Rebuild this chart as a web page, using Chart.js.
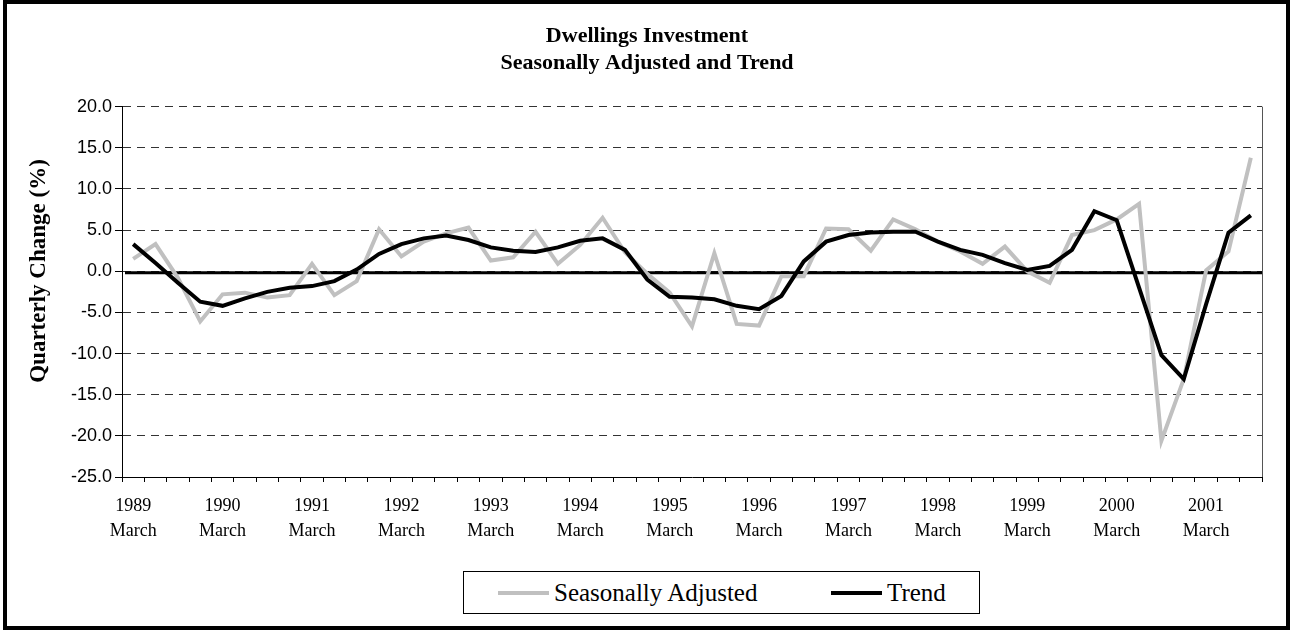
<!DOCTYPE html>
<html>
<head>
<meta charset="utf-8">
<script src="https://cdn.jsdelivr.net/npm/chart.js@4.4.0/dist/chart.umd.min.js"></script>
<style>
  body { margin: 0; background: #fff; }
  #frame { position: absolute; left: 3px; top: 0px; width: 1279px; height: 622px; border: 4px solid #000; }
  #wrap { position: absolute; left: 0; top: 0; width: 1294px; height: 631px; }
  #legend { position: absolute; left: 463px; top: 571px; width: 515px; height: 41px; border: 1px solid #000; background: #fff;
            font-family: "Liberation Serif"; font-size: 25px; color: #000; }
  #legend .item { position: absolute; top: 0; height: 41px; display: flex; align-items: center; white-space: nowrap; }
  #legend .swatch { width: 51px; height: 4px; margin-right: 5px; }
</style>
</head>
<body>
<div id="frame"></div>
<div id="wrap"><canvas id="chart" width="1294" height="631"></canvas></div>
<div id="legend"></div>
<script>
// quarterly % change, March 1989 to September 2001
var years = ['1989', '1990', '1991', '1992', '1993', '1994', '1995', '1996', '1997', '1998', '1999', '2000', '2001'];
var months = ['March', 'June', 'September', 'December'];

var seasonallyAdjusted = [
  1.5, 3.3, -0.8, -6.1,  -2.8, -2.6, -3.2, -2.9,  0.9, -2.9, -1.2, 5.1,
  1.8, 3.6, 4.6, 5.3,    1.3, 1.7, 4.8, 0.9,     3.2, 6.5, 2.3, -0.3,
  -2.6, -6.7, 2.2, -6.4, -6.6, -0.6, -0.6, 5.2,  5.1, 2.5, 6.3, 5.1,
  3.6, 2.4, 0.9, 3.0,    0.0, -1.4, 4.4, 5.0,    6.3, 8.2, -20.6, -13.1,
  0.1, 2.4, 13.8
];
var trend = [
  3.3, 1.0, -1.4, -3.7,  -4.2, -3.3, -2.5, -2.0,  -1.8, -1.2, 0.2, 2.1,
  3.3, 4.0, 4.35, 3.8,   2.9, 2.5, 2.35, 2.9,    3.7, 4.0, 2.6, -1.0,
  -3.1, -3.2, -3.4, -4.2, -4.6, -3.0, 1.2, 3.6,  4.4, 4.7, 4.8, 4.8,
  3.6, 2.6, 2.0, 1.0,    0.15, 0.65, 2.6, 7.3,   6.2, -2.0, -10.2, -13.1,
  -4.0, 4.7, 6.8
];

var quarters = [];
years.forEach(y => months.forEach(m => quarters.push([y, m])));
quarters = quarters.slice(0, seasonallyAdjusted.length);

var serif = 'Liberation Serif';
var sans = 'Liberation Sans';

// thick zero line, right border of the plot, rotated y title
var extras = {
  id: 'extras',
  beforeDatasetsDraw(chart) {
    const {ctx, chartArea} = chart;
    const y0 = chart.scales.y.getPixelForValue(0) + 1.5;
    ctx.save();
    ctx.strokeStyle = '#000';
    ctx.lineWidth = 3;
    ctx.beginPath();
    ctx.moveTo(chartArea.left + 3, y0);
    ctx.lineTo(chartArea.right + 1, y0);
    ctx.stroke();
    ctx.lineWidth = 1;
    ctx.strokeStyle = '#555';
    ctx.beginPath();
    ctx.moveTo(chartArea.right + 0.5, chartArea.top);
    ctx.lineTo(chartArea.right + 0.5, chartArea.bottom);
    ctx.stroke();
    ctx.restore();
  },
  afterDraw(chart) {
    const ctx = chart.ctx;
    ctx.save();
    ctx.translate(39, 271);
    ctx.rotate(-Math.PI / 2);
    ctx.font = 'bold 23px "' + serif + '"';
    ctx.fillStyle = '#000';
    ctx.textAlign = 'center';
    ctx.textBaseline = 'middle';
    ctx.fillText('Quarterly Change (%)', 0, 0);
    ctx.restore();
  }
};

var chart = new Chart(document.getElementById('chart'), {
  type: 'line',
  data: {
    labels: quarters.map(q => q[1] + ' ' + q[0]),
    datasets: [
      { label: 'Seasonally Adjusted', data: seasonallyAdjusted, borderColor: '#c0c0c0', backgroundColor: '#c0c0c0',
        borderWidth: 4, pointRadius: 0, tension: 0, order: 2 },
      { label: 'Trend', data: trend, borderColor: '#000', backgroundColor: '#000',
        borderWidth: 4, pointRadius: 0, tension: 0, order: 1 }
    ]
  },
  options: {
    responsive: false,
    animation: false,
    layout: { padding: { left: 32, right: 32, top: 23, bottom: 84 } },
    plugins: {
      legend: { display: false },
      tooltip: { enabled: false },
      title: {
        display: true,
        text: ['Dwellings Investment', 'Seasonally Adjusted and Trend'],
        color: '#000',
        font: { family: serif, size: 22, weight: 'bold', lineHeight: 1.22 },
        padding: { top: 0, bottom: 30 }
      }
    },
    scales: {
      x: {
        offset: true,
        grid: { offset: true, drawOnChartArea: false, tickLength: 5, color: '#000' },
        border: { color: '#000', width: 1 },
        ticks: {
          autoSkip: false, maxRotation: 0, padding: 12, color: '#000',
          font: { family: serif, size: 18, lineHeight: 1.39 },
          callback: (v, i) => quarters[i][1] === 'March' ? [quarters[i][0], quarters[i][1]] : ''
        },
        afterFit: s => { s.height = 70; }
      },
      y: {
        min: -25, max: 20,
        ticks: { stepSize: 5, padding: 3, color: '#000', font: { family: sans, size: 18 }, callback: v => v.toFixed(1) },
        grid: { color: '#333', tickColor: '#000', tickLength: 7, tickBorderDash: [] },
        border: { color: '#000', width: 1, dash: [8, 6] },
        afterFit: s => { s.width = 90; }
      }
    }
  },
  plugins: [extras]
});

// legend box built from the datasets
var legend = document.getElementById('legend');
var itemLeft = [34, 367];
chart.data.datasets.forEach((ds, i) => {
  const item = document.createElement('div');
  item.className = 'item';
  item.style.left = itemLeft[i] + 'px';
  item.innerHTML = '<span class="swatch" style="background:' + ds.borderColor + '"></span>' + ds.label;
  legend.appendChild(item);
});
</script>
</body>
</html>
